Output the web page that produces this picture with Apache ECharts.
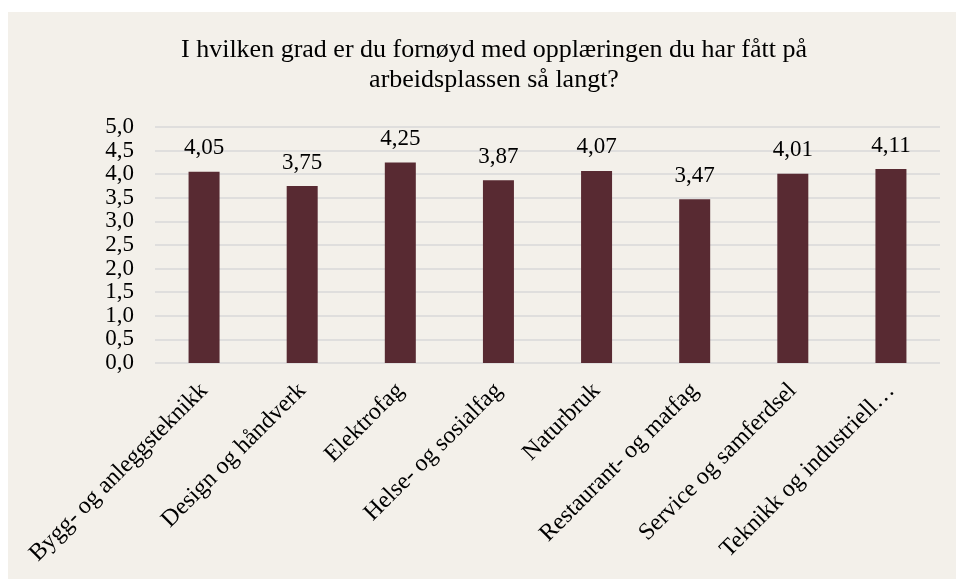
<!DOCTYPE html>
<html>
<head>
<meta charset="utf-8">
<script src="https://cdn.jsdelivr.net/npm/echarts@6/dist/echarts.min.js"></script>
<style>
  html, body { margin: 0; padding: 0; background: #ffffff; }
  #main { width: 956px; height: 579px; }
</style>
</head>
<body>
<div id="main"></div>
<script>
"use strict";
var categories = ['Bygg- og anleggsteknikk', 'Design og håndverk', 'Elektrofag', 'Helse- og sosialfag',
    'Naturbruk', 'Restaurant- og matfag', 'Service og samferdsel', 'Teknikk og industriell…'];
var values = [4.05, 3.75, 4.25, 3.87, 4.07, 3.47, 4.01, 4.11];
var titleText = 'I hvilken grad er du fornøyd med opplæringen du har fått på\narbeidsplassen så langt?';

var serif = "'Liberation Serif', 'Times New Roman', serif";
var myChart = echarts.init(document.getElementById('main'));

var option = {
    animation: false,
    backgroundColor: '#ffffff',
    graphic: [{
        type: 'rect',
        z: -10,
        shape: { x: 8, y: 12, width: 948, height: 567 },
        style: { fill: '#f3f0ea' }
    }],
    title: {
        text: titleText,
        left: 489,
        top: 30,
        textAlign: 'center',
        textStyle: {
            fontFamily: serif,
            fontWeight: 'normal',
            fontSize: 26,
            lineHeight: 30,
            color: '#000000'
        }
    },
    grid: { left: 155, right: 16, top: 127, bottom: 216 },
    xAxis: {
        type: 'category',
        data: categories,
        axisLine: { show: false },
        axisTick: { show: false },
        axisLabel: {
            rotate: 45,
            interval: 0,
            margin: 24,
            fontFamily: serif,
            fontSize: 24,
            color: '#000000'
        }
    },
    yAxis: {
        type: 'value',
        min: 0,
        max: 5,
        interval: 0.5,
        axisLine: { show: false },
        axisTick: { show: false },
        splitLine: { lineStyle: { color: '#d9d9d9', width: 1.5 } },
        axisLabel: {
            margin: 21,
            fontFamily: serif,
            fontSize: 23,
            color: '#000000',
            formatter: function (v) { return v.toFixed(1).replace('.', ','); }
        }
    },
    series: [{
        type: 'bar',
        data: values,
        barWidth: 31,
        itemStyle: { color: '#582a32' },
        label: {
            show: true,
            position: 'top',
            distance: 12,
            fontFamily: serif,
            fontSize: 23,
            color: '#000000',
            formatter: function (p) { return p.value.toFixed(2).replace('.', ','); }
        }
    }]
};

myChart.setOption(option);
</script>
</body>
</html>
